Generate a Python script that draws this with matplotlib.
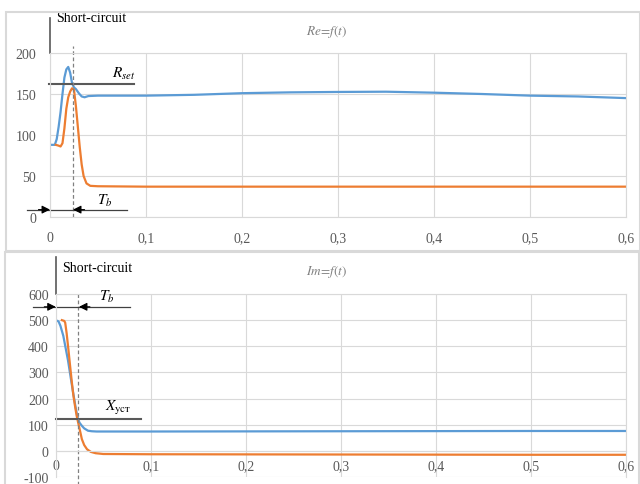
import matplotlib.pyplot as plt
from matplotlib.patches import Rectangle

plt.rcParams['font.family'] = ['Liberation Serif', 'DejaVu Serif']
plt.rcParams['mathtext.fontset'] = 'stix'
plt.rcParams['axes.unicode_minus'] = False

blue = "#5B9BD5"
orange = "#ED7D31"
grid_c = "#D9D9D9"
txt_c = "#595959"

# Re = f(t)
t_re1 = [0, 0.005, 0.007, 0.009, 0.011, 0.013, 0.015, 0.017, 0.019, 0.021, 0.023,
         0.025, 0.027, 0.030, 0.033, 0.036, 0.040, 0.05, 0.1, 0.15, 0.2, 0.25,
         0.3, 0.35, 0.4, 0.45, 0.5, 0.55, 0.6]
re1 = [88, 88, 95, 110, 128, 150, 170, 180, 183, 176, 163,
       158, 156, 151, 147, 146, 147.5, 148, 148, 149, 151, 152,
       152.5, 152.8, 151.6, 150, 148, 147, 145]
t_re2 = [0.006, 0.009, 0.011, 0.013, 0.015, 0.017, 0.019, 0.021, 0.023, 0.025,
         0.027, 0.029, 0.031, 0.033, 0.035, 0.038, 0.042, 0.05, 0.1, 0.2, 0.3,
         0.4, 0.5, 0.6]
re2 = [88, 87, 86, 90, 108, 132, 146, 153, 157, 155,
       135, 110, 85, 64, 50, 41, 38, 37.5, 37, 37, 37,
       37, 37, 37]

# Im = f(t)
t_im1 = [0, 0.003, 0.005, 0.008, 0.010, 0.013, 0.0155, 0.018, 0.0195, 0.021,
         0.023, 0.025, 0.0275, 0.030, 0.034, 0.038, 0.043, 0.05, 0.1, 0.2, 0.3,
         0.4, 0.5, 0.6]
im1 = [500, 495, 478, 440, 402, 345, 287, 230, 198, 165,
       128, 108, 96, 86, 77, 75, 74, 74, 74, 74.5, 75,
       75.5, 76, 76]
t_im2 = [0.0065, 0.009, 0.010, 0.0115, 0.0133, 0.015, 0.017, 0.0185, 0.0203,
         0.022, 0.024, 0.026, 0.0275, 0.030, 0.033, 0.037, 0.042, 0.05, 0.1,
         0.2, 0.3, 0.4, 0.5, 0.6]
im2 = [500, 497, 490, 450, 390, 330, 262, 215, 172,
       135, 102, 70, 45, 22, 6, -4, -9, -12, -13,
       -13.5, -14, -14.5, -15, -15]

x_ticks = [0, 0.1, 0.2, 0.3, 0.4, 0.5, 0.6]
x_labels = ["0", "0,1", "0,2", "0,3", "0,4", "0,5", "0,6"]
re_ticks = [0, 50, 100, 150, 200]
im_ticks = [-100, 0, 100, 200, 300, 400, 500, 600]

r_set = 162
x_yct = 121
t_b = 0.024

fig = plt.figure(figsize=(6.4, 4.85), dpi=100)

# panel borders
fig.patches.append(Rectangle((6 / 640, 1 - 252 / 485), 0.99, 239 / 485,
                             transform=fig.transFigure, fill=False,
                             edgecolor=grid_c, lw=1.5))
fig.patches.append(Rectangle((5 / 640, -0.05), 0.99, 1 - 253 / 485 + 0.05,
                             transform=fig.transFigure, fill=False,
                             edgecolor=grid_c, lw=1.5))


def style(ax, ticks, ylim, pad_y, pad_x):
    ax.set_xlim(0, 0.6)
    ax.set_ylim(*ylim)
    ax.set_xticks(x_ticks)
    ax.set_xticklabels(x_labels)
    ax.set_yticks(ticks)
    ax.grid(True, color=grid_c, lw=0.8)
    ax.set_axisbelow(True)
    for s in ax.spines.values():
        s.set_color(grid_c)
        s.set_linewidth(0.8)
    ax.tick_params(axis='y', length=0, pad=pad_y, labelsize=10, labelcolor=txt_c)
    ax.tick_params(axis='x', length=0, pad=pad_x, labelsize=10, labelcolor=txt_c)


def arrow(ax, x0, x1, y):
    ax.annotate("", xy=(x1, y), xytext=(x0, y), annotation_clip=False,
                arrowprops=dict(arrowstyle="-|>", color="black", lw=0.8,
                                mutation_scale=12, shrinkA=0, shrinkB=0))


# top chart
ax1 = fig.add_axes([50 / 640, 1 - 218 / 485, 576 / 640, 164 / 485])
style(ax1, re_ticks, (0, 200), 10, 10)
ax1.plot(t_re1, re1, color=blue, lw=1.6)
ax1.plot(t_re2, re2, color=orange, lw=1.6)
ax1.plot([0, 0], [200, 243], color="#595959", lw=1.2, clip_on=False)
ax1.text(0.006, 243, "Short-circuit", fontsize=10, va='center', ha='left')
ax1.plot([-0.001, 0.088], [r_set, r_set], color="#595959", lw=1.5, clip_on=False)
ax1.text(0.077, r_set + 4, r"$R_{set}$", fontsize=11, ha='center', va='bottom')
ax1.plot([t_b, t_b], [0, 208], color="#808080", lw=0.9, ls=(0, (3, 2)), clip_on=False)
ax1.plot([-0.0235, 0.0805], [9, 9], color="#404040", lw=0.9, clip_on=False)
arrow(ax1, -0.012, 0, 9)
arrow(ax1, 0.036, t_b, 9)
ax1.text(0.057, 11, r"$T_b$", fontsize=11, ha='center', va='bottom')
fig.text(327 / 640, 1 - 32 / 485, r"$Re\!=\!f(t)$", fontsize=9.5, color="#7F7F7F",
         ha='center', va='center')

# bottom chart
ax2 = fig.add_axes([55.7 / 640, 1 - 478 / 485, 570.3 / 640, 183 / 485])
style(ax2, im_ticks, (-100, 600), 5, 6)
ax2.spines['bottom'].set_position(('data', 0))
ax2.plot(t_im1, im1, color=blue, lw=1.6)
ax2.plot(t_im2, im2, color=orange, lw=1.6)
ax2.plot([0, 0], [600, 741], color="#595959", lw=1.2, clip_on=False)
ax2.text(0.007, 703, "Short-circuit", fontsize=10, va='center', ha='left')
ax2.plot([0, 0.09], [x_yct, x_yct], color="#595959", lw=1.5, clip_on=False)
ax2.text(0.066, x_yct + 12, r"$X_{\mathrm{уст}}$", fontsize=11,
         ha='center', va='bottom')
ax2.plot([0.0235, 0.0235], [-130, 600], color="#808080", lw=0.9, ls=(0, (3, 2)),
         clip_on=False)
ax2.plot([-0.024, 0.078], [551, 551], color="#404040", lw=0.9, clip_on=False)
arrow(ax2, -0.012, 0, 551)
arrow(ax2, 0.036, 0.0245, 551)
ax2.text(0.054, 560, r"$T_b$", fontsize=11, ha='center', va='bottom')
fig.text(327 / 640, 1 - 272 / 485, r"$Im\!=\!f(t)$", fontsize=9.5, color="#7F7F7F",
         ha='center', va='center')

fig.savefig("out.png", dpi=100)
